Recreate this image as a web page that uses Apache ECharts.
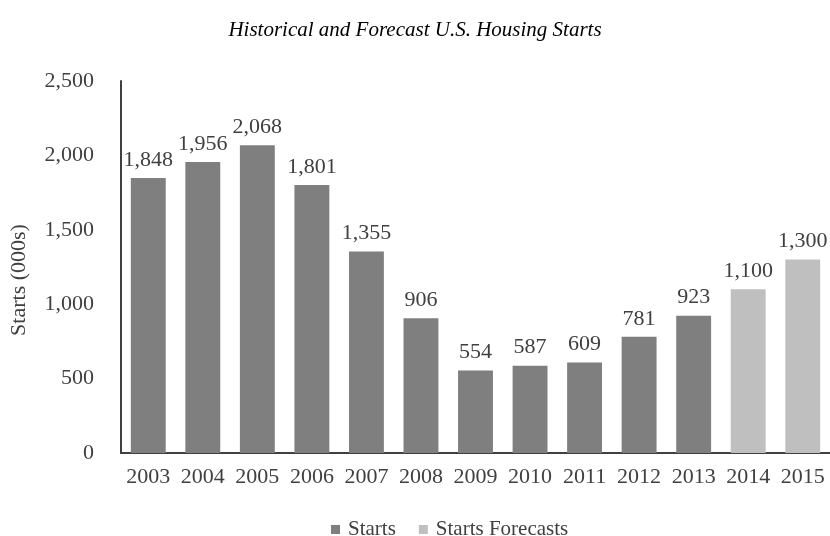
<!DOCTYPE html>
<html><head><meta charset="utf-8">
<script src="https://cdn.jsdelivr.net/npm/echarts@6/dist/echarts.min.js"></script>
<style>html,body{margin:0;padding:0;background:#fff}#c{width:830px;height:536px}</style>
</head><body><div id="c"></div>
<script>
const years = ['2003','2004','2005','2006','2007','2008','2009','2010','2011','2012','2013','2014','2015'];
const starts = [1848,1956,2068,1801,1355,906,554,587,609,781,923,null,null];
const forecasts = [null,null,null,null,null,null,null,null,null,null,null,1100,1300];
const yTicks = [0,500,1000,1500,2000,2500];

const font = 'Liberation Serif';
const chart = echarts.init(document.getElementById('c'));
const lbl = {show:true, position:'top', distance:7, color:'#404040', fontFamily:font, fontSize:22,
  formatter:p => p.value == null ? '' : p.value.toLocaleString('en-US')};
chart.setOption({
  animation:false,
  title:{text:'Historical and Forecast U.S. Housing Starts', left:'center', top:15,
    textStyle:{fontFamily:font, fontStyle:'italic', fontWeight:'normal', fontSize:21, color:'#000'}},
  legend:{top:514, left:326, itemWidth:9, itemHeight:9, itemGap:23, icon:'rect',
    textStyle:{fontFamily:font, fontSize:21, color:'#404040', padding:[0,0,0,3]},
    data:['Starts','Starts Forecasts']},
  grid:{left:121, right:0, top:81, bottom:83, outerBoundsMode:'none', containLabel:false},
  xAxis:{type:'category', data:years,
    axisLine:{lineStyle:{color:'#404040', width:2}}, axisTick:{show:false},
    axisLabel:{interval:0, hideOverlap:false, fontFamily:font, fontSize:22, color:'#404040', margin:13}},
  yAxis:{type:'value', min:0, max:2500, interval:500,
    name:'Starts (000s)', nameLocation:'middle', nameGap:91, nameRotate:90,
    nameTextStyle:{fontFamily:font, fontSize:22, color:'#404040', padding:[0,26,0,0]},
    axisLine:{show:true, lineStyle:{color:'#404040', width:2}}, axisTick:{show:false},
    splitLine:{show:false},
    axisLabel:{fontFamily:font, fontSize:22, color:'#404040', margin:27,
      formatter:v => yTicks.includes(v) ? v.toLocaleString('en-US') : ''}},
  series:[
    {name:'Starts', type:'bar', stack:'s', data:starts, barWidth:'64%', itemStyle:{color:'#7f7f7f'}, label:lbl},
    {name:'Starts Forecasts', type:'bar', stack:'s', data:forecasts, barWidth:'64%', itemStyle:{color:'#bfbfbf'}, label:lbl}
  ]
});
</script></body></html>
